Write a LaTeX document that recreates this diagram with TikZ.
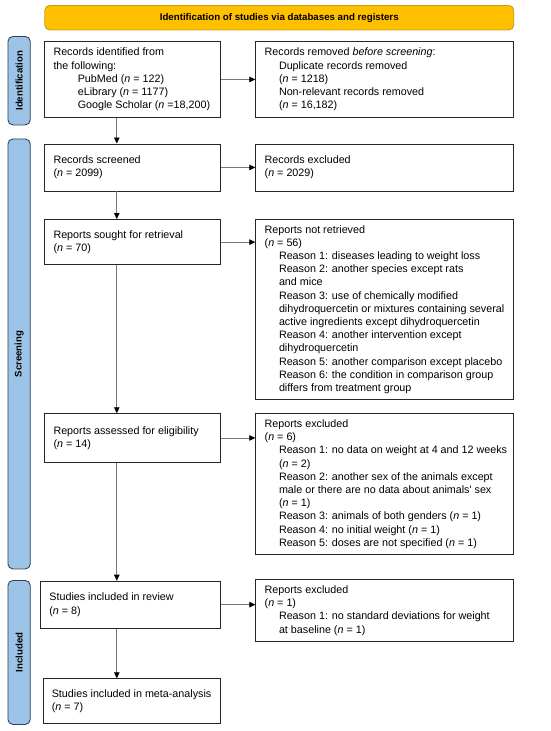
\documentclass[tikz,border=0pt]{standalone}
\usepackage{fontspec}
\setmainfont{Liberation Sans}
\usetikzlibrary{arrows.meta,calc}
\definecolor{hdrfill}{RGB}{255,192,0}
\definecolor{hdrdraw}{RGB}{205,155,20}
\definecolor{barfill}{RGB}{157,195,230}
\definecolor{bardraw}{RGB}{48,68,92}
\definecolor{linegray}{RGB}{120,120,120}
\tikzset{
  flowbox/.style={draw=black!85, line width=0.9pt, fill=white, rectangle, inner sep=0pt},
  boxtext/.style={anchor=west, align=left, inner sep=0pt, font=\fontsize{10.75}{13.2}\selectfont},
  hdr/.style={draw=hdrdraw, fill=hdrfill, line width=0.9pt, rounded corners=5pt, inner sep=0pt},
  sidebar/.style={draw=bardraw, fill=barfill, line width=0.9pt, rounded corners=5pt, inner sep=0pt},
  sidelabel/.style={rotate=90, font=\fontsize{9.6}{11}\selectfont\bfseries, inner sep=0pt},
  arr/.style={draw=linegray, line width=0.8pt, -{Triangle[length=6pt,width=5.5pt,color=black]}}
}
\newcommand{\ind}{\hspace*{14.3pt}}
\newcommand{\indb}{\hspace*{24.3pt}}
\newcommand{\nn}{\textit{n}}
\begin{document}
\begin{tikzpicture}[x=1pt,y=-1pt]
\useasboundingbox (0,0) rectangle (550,731);
% header
\node[hdr, minimum width=469pt, minimum height=24.5pt, anchor=north west] (hdr) at (44.3,5) {};
\node[font=\fontsize{9.7}{12}\selectfont\bfseries, inner sep=0pt] (hdrt) at (hdr.center) {Identification of studies via databases and registers};
% side bars
\node[sidebar, minimum width=22.3pt, minimum height=88.5pt, anchor=north west] (sbid) at (7.5,36) {};
\node[sidelabel] (sbidt) at (sbid.center) {Identification};
\node[sidebar, minimum width=22.3pt, minimum height=430pt, anchor=north west] (sbsc) at (7.5,138.5) {};
\node[sidelabel] (sbsct) at (sbsc.center) {Screening};
\node[sidebar, minimum width=22.3pt, minimum height=144pt, anchor=north west] (sbin) at (7.5,580) {};
\node[sidelabel] (sbint) at (sbin.center) {Included};
% left column boxes
\node[flowbox, minimum width=175.7pt, minimum height=76.6pt, anchor=north west] (b1) at (44.3,40.7) {};
\node[boxtext] (b1t) at ([xshift=9pt]b1.west) {Records identified from\\the following:\\\indb PubMed (\nn{} = 122)\\\indb eLibrary (\nn{} = 1177)\\\indb Google Scholar (\nn{} =18,200)};
\node[flowbox, minimum width=175.7pt, minimum height=47pt, anchor=north west] (b3) at (44.3,143.5) {};
\node[boxtext] (b3t) at ([xshift=9pt]b3.west) {Records screened\\(\nn{} = 2099)};
\node[flowbox, minimum width=175.7pt, minimum height=45.3pt, anchor=north west] (b5) at (44.3,219) {};
\node[boxtext] (b5t) at ([xshift=9pt]b5.west) {Reports sought for retrieval\\(\nn{} = 70)};
\node[flowbox, minimum width=175.7pt, minimum height=48.4pt, anchor=north west] (b7) at (44.3,413.3) {};
\node[boxtext] (b7t) at ([xshift=9pt]b7.west) {Reports assessed for eligibility\\(\nn{} = 14)};
\node[flowbox, minimum width=180.2pt, minimum height=47pt, anchor=north west] (b9) at (40,580.7) {};
\node[boxtext] (b9t) at ([xshift=9.2pt]b9.west) {Studies included in review\\(\nn{} = 8)};
\node[flowbox, minimum width=177.2pt, minimum height=45pt, anchor=north west] (b11) at (43,678.3) {};
\node[boxtext] (b11t) at ([xshift=8.6pt]b11.west) {Studies included in meta-analysis\\(\nn{} = 7)};
% right column boxes
\node[flowbox, minimum width=258pt, minimum height=76.6pt, anchor=north west] (b2) at (255.3,40.7) {};
\node[boxtext] (b2t) at ([xshift=9.2pt]b2.west) {Records removed \textit{before screening}:\\\ind Duplicate records removed\\\ind (\nn{} = 1218)\\\ind Non-relevant records removed\\\ind (\nn{} = 16,182)};
\node[flowbox, minimum width=258pt, minimum height=47pt, anchor=north west] (b4) at (255.3,143.5) {};
\node[boxtext] (b4t) at ([xshift=9.2pt]b4.west) {Records excluded\\(\nn{} = 2029)};
\node[flowbox, minimum width=258pt, minimum height=180pt, anchor=north west] (b6) at (255.3,219) {};
\node[boxtext] (b6t) at ([xshift=9.2pt]b6.west) {Reports not retrieved\\(\nn{} = 56)\\
\ind Reason 1: diseases leading to weight loss\\
\ind Reason 2: another species except rats\\
\ind and mice\\
\ind Reason 3: use of chemically modified\\
\ind dihydroquercetin or mixtures containing several\\
\ind active ingredients except dihydroquercetin\\
\ind Reason 4: another intervention except\\
\ind dihydroquercetin\\
\ind Reason 5: another comparison except placebo\\
\ind Reason 6: the condition in comparison group\\
\ind differs from treatment group};
\node[flowbox, minimum width=258pt, minimum height=140.7pt, anchor=north west] (b8) at (255.3,413.3) {};
\node[boxtext] (b8t) at ([xshift=9.2pt]b8.west) {Reports excluded\\(\nn{} = 6)\\
\ind Reason 1: no data on weight at 4 and 12 weeks\\
\ind (\nn{} = 2)\\
\ind Reason 2: another sex of the animals except\\
\ind male or there are no data about animals\textquotesingle{} sex\\
\ind (\nn{} = 1)\\
\ind Reason 3: animals of both genders (\nn{} = 1)\\
\ind Reason 4: no initial weight (\nn{} = 1)\\
\ind Reason 5: doses are not specified (\nn{} = 1)};
\node[flowbox, minimum width=258pt, minimum height=61.4pt, anchor=north west] (b10) at (255.3,579.3) {};
\node[boxtext] (b10t) at ([xshift=9.2pt]b10.west) {Reports excluded\\(\nn{} = 1)\\
\ind Reason 1: no standard deviations for weight\\
\ind at baseline (\nn{} = 1)};
% connectors
\coordinate (vx) at (116.8,0);
\draw[arr] (b1.south -| vx) -- (b3.north -| vx);
\draw[arr] (b3.south -| vx) -- (b5.north -| vx);
\draw[arr] (b5.south -| vx) -- (b7.north -| vx);
\draw[arr] (b7.south -| vx) -- (b9.north -| vx);
\draw[arr] (b9.south -| vx) -- (b11.north -| vx);
\draw[arr] (b1.east) -- (b1.east -| b2.west);
\draw[arr] (b3.east) -- (b3.east -| b4.west);
\draw[arr] (b5.east) -- (b5.east -| b6.west);
\draw[arr] (b7.east) -- (b7.east -| b8.west);
\draw[arr] (b9.east) -- (b9.east -| b10.west);
\end{tikzpicture}
\end{document}
